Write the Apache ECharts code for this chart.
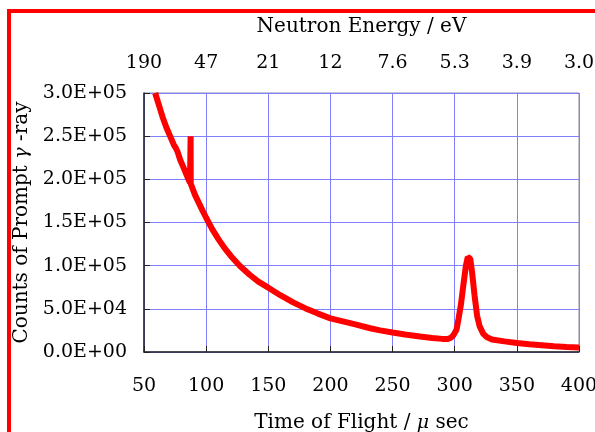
<!DOCTYPE html>
<html>
<head>
<meta charset="utf-8">
<script src="https://cdn.jsdelivr.net/npm/echarts@6/dist/echarts.min.js"></script>
<style>
  html, body { margin: 0; padding: 0; background: #fff; }
  #main { width: 595px; height: 432px; }
</style>
</head>
<body>
<div id="main"></div>
<script>
// time of flight (micro sec) and prompt gamma counts
var tof = [59, 62, 65, 68, 71, 74, 75.5, 76.3, 77, 79, 82, 85, 87, 87.4, 87.5, 87.6, 88, 91, 94, 97,
  100, 105, 110, 115, 120, 127, 135, 142, 150, 160, 170, 180, 190, 200, 210, 220, 232, 240,
  250, 260, 272, 282, 290, 294, 297, 299, 301.5, 303, 305, 307, 309, 310.5, 311.5, 312.5,
  314, 316, 318, 320, 323, 326, 330, 340, 350, 360, 370, 380, 390, 400]
var counts = [300000, 286000, 272000, 260000, 250000, 240000, 236500, 238000, 232000, 223000,
  213000, 202500, 196000, 196000, 250000, 195000, 194000, 182000, 173000, 164000,
  155500, 142000, 130500, 120000, 111000, 100000, 89500, 81500, 74500, 65500, 57500, 50500,
  44500, 39000, 35500, 32000, 27500, 25000,
  22500, 20300, 18000, 16200, 15200, 15000, 16500, 19500, 26000, 38000, 55000, 78000, 100000,
  110000, 112000, 108000, 92000, 65000, 42000, 30000, 21000, 17000, 14500, 12300, 10400,
  8900, 7800, 6600, 5800, 5100]
// tick labels
var energyLabels = ['190', '47', '21', '12', '7.6', '5.3', '3.9', '3.0']
var yLabels = ['0.0E+00', '5.0E+04', '1.0E+05', '1.5E+05', '2.0E+05', '2.5E+05', '3.0E+05']

var serif = 'DejaVu Serif'
var points = []
for (var i = 0; i < tof.length; i++) {
  points.push([tof[i], counts[i]])
}

var myChart = echarts.init(document.getElementById('main'))
myChart.setOption({
  animation: false,
  backgroundColor: '#fff',
  textStyle: { fontFamily: serif, color: '#000' },
  graphic: [{
    type: 'rect',
    shape: { x: 9, y: 11, width: 800, height: 800 },
    style: { fill: 'none', stroke: '#ff0000', lineWidth: 4 },
    silent: true
  }],
  grid: {
    left: 144, top: 93, right: 16, bottom: 80,
    containLabel: false, outerBoundsMode: 'none',
    show: true, borderColor: '#8a8aa8', borderWidth: 1
  },
  xAxis: [{
    type: 'value', position: 'bottom', min: 50, max: 400, interval: 50,
    name: 'Time of Flight / {g|μ} sec', nameLocation: 'middle', nameGap: 61,
    nameTextStyle: {
      fontFamily: serif, fontSize: 20, color: '#000',
      rich: { g: { fontFamily: serif, fontStyle: 'italic', fontSize: 19, color: '#000' } }
    },
    axisLine: { onZero: false, lineStyle: { color: '#222', width: 1.5 } },
    axisTick: { inside: true, length: 6, lineStyle: { color: '#222' } },
    axisLabel: { margin: 25, fontSize: 19, fontFamily: serif, color: '#000' },
    splitLine: { show: true, lineStyle: { color: '#8080ff', width: 1 } }
  }, {
    type: 'value', position: 'top', min: 50, max: 400, interval: 50,
    name: 'Neutron Energy / eV', nameLocation: 'middle', nameGap: 56,
    nameTextStyle: { fontFamily: serif, fontSize: 20, color: '#000' },
    axisLine: { show: false },
    axisTick: { show: false },
    axisLabel: {
      margin: 20, fontSize: 19, fontFamily: serif, color: '#000',
      formatter: function (v) { return energyLabels[Math.round((v - 50) / 50)] }
    },
    splitLine: { show: false }
  }],
  yAxis: {
    type: 'value', min: 0, max: 300000, interval: 50000,
    name: 'Counts of Prompt {g|γ} -ray', nameLocation: 'middle', nameGap: 109,
    nameTextStyle: {
      fontFamily: serif, fontSize: 20, color: '#000',
      rich: { g: { fontFamily: serif, fontStyle: 'italic', fontSize: 19, color: '#000' } }
    },
    axisLine: { show: true, lineStyle: { color: '#222', width: 1.5 } },
    axisTick: { show: true, inside: true, length: 6, lineStyle: { color: '#222' } },
    axisLabel: {
      margin: 17, fontSize: 19, fontFamily: serif, color: '#000',
      formatter: function (v) { return yLabels[Math.round(v / 50000)] }
    },
    splitLine: { show: true, lineStyle: { color: '#8080ff', width: 1 } }
  },
  series: [{
    type: 'line',
    xAxisIndex: 0,
    data: points,
    showSymbol: false,
    lineStyle: { color: '#ff0000', width: 6 },
    itemStyle: { color: '#ff0000' }
  }]
})
</script>
</body>
</html>
